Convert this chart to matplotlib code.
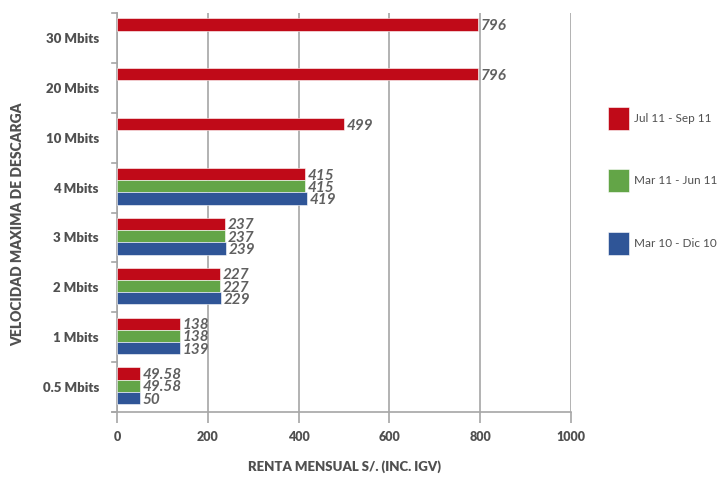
import numpy as np
import matplotlib
matplotlib.use("Agg")
import matplotlib.pyplot as plt
from matplotlib.patches import Patch

categories = ["30 Mbits", "20 Mbits", "10 Mbits", "4 Mbits", "3 Mbits", "2 Mbits", "1 Mbits", "0.5 Mbits"]
jul_sep_11 = [796, 796, 499, 415, 237, 227, 138, 49.58]
mar_jun_11 = [None, None, None, 415, 237, 227, 138, 49.58]
mar_dic_10 = [None, None, None, 419, 239, 229, 139, 50]
labels_jul = ["796", "796", "499", "415", "237", "227", "138", "49.58"]
labels_mar11 = [None, None, None, "415", "237", "227", "138", "49.58"]
labels_mar10 = [None, None, None, "419", "239", "229", "139", "50"]
series_names = ["Jul 11 - Sep 11", "Mar 11 - Jun 11", "Mar 10 - Dic 10"]
x_ticks = [0, 200, 400, 600, 800, 1000]

RED = "#C00A18"
GREEN = "#63A547"
BLUE = "#2F5597"
GRID = "#A6A6A6"
TXT = "#505050"

plt.rcParams["font.family"] = ["Lato", "DejaVu Sans"]

fig = plt.figure(figsize=(7.25, 4.79), dpi=100)
ax = fig.add_axes([117 / 725, 1 - 412 / 479, (571 - 117) / 725, (412 - 13) / 479])

n = len(categories)
centers = np.arange(n)  # 0 at top after inversion
bh = 0.245
offsets = [-0.27, -0.025, 0.22]
series = [jul_sep_11, mar_jun_11, mar_dic_10]
texts = [labels_jul, labels_mar11, labels_mar10]
colors = [RED, GREEN, BLUE]

for vals, labs, off, col in zip(series, texts, offsets, colors):
    for i, (v, t) in enumerate(zip(vals, labs)):
        if v is None:
            continue
        ax.barh(centers[i] + off, v, height=bh, color=col, edgecolor="white",
                linewidth=0.4, zorder=3)
        ax.text(v + 6, centers[i] + off + 0.03, t, va="center", ha="left",
                fontsize=11, style="italic", fontweight="bold", color="#606060", zorder=4)

ax.set_xlim(0, 1000)
ax.set_ylim(n - 0.5, -0.5)
ax.set_xticks(x_ticks)
ax.set_xticklabels([str(t) for t in x_ticks], fontsize=9, fontweight="heavy", color=TXT)
ax.set_yticks(centers)
ax.set_yticklabels(categories, fontsize=9.5, fontweight="heavy", color=TXT)
ax.tick_params(axis="y", length=0, pad=13)
ax.tick_params(axis="x", length=8, width=1.2, color=GRID, direction="out", pad=6)

# boundary ticks between categories on the left spine
for b in np.arange(-0.5, n, 1.0):
    ax.plot([-12, 0], [b, b], color=GRID, lw=1.2, clip_on=False, zorder=2)

ax.grid(axis="x", color=GRID, linewidth=1.2, zorder=0)
ax.set_axisbelow(True)
for s in ["top", "right"]:
    ax.spines[s].set_visible(False)
ax.spines["left"].set_color(GRID)
ax.spines["left"].set_linewidth(1.2)
ax.spines["bottom"].set_color(GRID)
ax.spines["bottom"].set_linewidth(1.2)
ax.spines["bottom"].set_bounds(-12, 1000)

ax.set_xlabel("RENTA MENSUAL S/. (INC. IGV)", fontsize=9.5, fontweight="heavy",
              color=TXT)
ax.xaxis.set_label_coords(0.5, -0.122)
ax.set_ylabel("VELOCIDAD MAXIMA DE DESCARGA", fontsize=10, fontweight="heavy",
              color=TXT)
ax.yaxis.set_label_coords(-0.205, 0.47)

handles = [Patch(facecolor=c, edgecolor="white", linewidth=0.4) for c in colors]
fig.legend(handles, series_names, loc="upper left", bbox_to_anchor=(608 / 725, 1 - 107 / 479),
           frameon=False, fontsize=8.5, labelcolor=TXT, handlelength=1.8, handleheight=2.6,
           labelspacing=3.35, handletextpad=0.4, borderpad=0, borderaxespad=0)

fig.savefig("out.png", dpi=100)
